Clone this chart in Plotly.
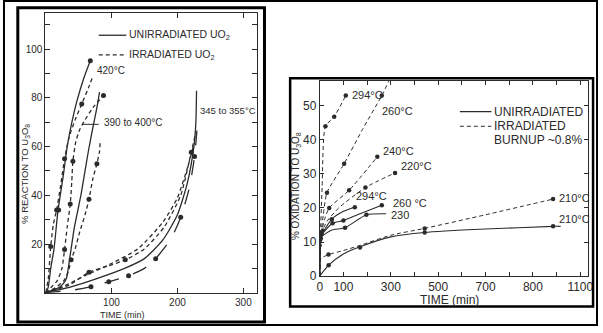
import plotly.graph_objects as go

# ---------------- LEFT PANEL DATA (time min, % reaction to U3O8) ----------------
l_u420_t = [0, 4, 8, 13, 19, 27, 33, 40, 48, 58, 68]
l_u420_v = [0, 2, 10, 18, 33.7, 48, 60, 70, 79, 88, 95.3]
l_d420_t = [0, 4, 8, 12, 17, 23, 29, 36, 45, 55, 65, 72]
l_d420_v = [0, 5, 19, 28, 34, 44, 55, 64, 71, 77.5, 84, 89]
l_d420_mt = [8, 17, 20, 29, 55]
l_d420_mv = [19, 34, 34, 55, 77.5]
l_d390a_t = [0, 8, 18, 25, 29, 33, 37.6, 40, 41.6, 46, 52, 60, 72, 88]
l_d390a_v = [0, 2, 5, 10, 17.7, 27, 36.4, 46, 54, 62, 67, 71, 76, 81]
l_d390a_mt = [29, 37.6, 41.6, 88]
l_d390a_mv = [17.7, 36.4, 54, 81]
l_u390_t = [0, 10, 20, 28, 32, 36.6, 40, 44, 50, 54, 59, 65, 72, 78, 82]
l_u390_v = [0, 1, 2, 4, 6, 13.7, 20, 27, 35, 40.4, 48.4, 58, 68, 76, 82.4]
l_d390b_t = [0, 15, 28, 35, 39, 45, 52, 60, 66, 72, 78, 82, 83]
l_d390b_v = [0, 2, 5, 9, 13.5, 18, 25, 32, 38.4, 47, 53, 58, 62]
l_d390b_mt = [39, 66, 78]
l_d390b_mv = [13.5, 38.4, 53]
l_d345a_t = [0, 30, 60, 100, 140, 178, 200, 216, 224]
l_d345a_v = [0, 3, 7, 12, 18, 29, 39, 52, 60]
l_d345b_t = [0, 35, 66, 95, 121, 150, 180, 205, 221, 228]
l_d345b_v = [0, 3, 8.4, 11, 13.5, 18, 27, 40, 57.7, 66]
l_d345b_mt = [66, 121, 221]
l_d345b_mv = [8.4, 13.5, 57.7]
l_u345_t = [0, 40, 80, 120, 150, 178, 200, 215, 225, 228, 229]
l_u345_v = [0, 2.5, 6, 10, 14, 21.7, 32, 45, 60, 70, 83]
l_u345b_t = [0, 40, 69, 96, 126, 150, 167, 190, 205, 218, 226, 230]
l_u345b_v = [0, 1, 2.5, 4.5, 7, 10, 14, 22, 31, 43, 56, 68]
l_u345b_mt = [69, 96, 126, 167, 205, 226]
l_u345b_mv = [2.5, 4.5, 7, 14, 31, 56]

# ---------------- RIGHT PANEL DATA (time min, % oxidation to U3O8) ----------------
r_d294_t = [0, 3, 10, 24, 61, 110]
r_d294_v = [0, 12, 26, 44, 46.8, 53]
r_d294_mt = [24, 61, 110]
r_d294_mv = [44, 46.8, 53]
r_d260_t = [0, 5, 15, 30.5, 103, 180, 262, 300]
r_d260_v = [0, 12, 18, 24.5, 33, 43, 53, 58.5]
r_d260_mt = [30.5, 103, 262]
r_d260_mv = [24.5, 33, 53]
r_d240_t = [0, 5, 20, 40, 124, 243]
r_d240_v = [0, 12, 16.5, 20, 25.2, 35]
r_d240_mt = [40, 124, 243]
r_d240_mv = [20, 25.2, 35]
r_d220_t = [0, 5, 30, 80, 193, 318]
r_d220_v = [0, 12, 16, 20, 26, 30.3]
r_d220_mt = [193, 318]
r_d220_mv = [26, 30.3]
r_u294_t = [0, 2, 8, 51, 100, 148]
r_u294_v = [0, 8, 12, 16.7, 19, 20.2]
r_u294_mt = [51, 148]
r_u294_mv = [16.7, 20.2]
r_u260_t = [0, 2, 8, 54, 100, 170, 262]
r_u260_v = [0, 8, 12, 15.5, 16.3, 18.3, 20.8]
r_u260_mt = [54, 100, 262]
r_u260_mv = [15.5, 16.3, 20.8]
r_u230_t = [0, 2, 8, 51, 107, 197, 280]
r_u230_v = [0, 8, 11.5, 13.5, 14.2, 18, 18.3]
r_u230_mt = [107, 197]
r_u230_mv = [14.2, 18]
r_d210_t = [0, 3, 37, 100, 170, 300, 443, 700, 985]
r_d210_v = [0, 5, 6.3, 7.5, 9, 12, 14, 18, 22.6]
r_d210_mt = [37, 443, 985]
r_d210_mv = [6.3, 14, 22.6]
r_u210_t = [0, 37.5, 100, 170, 300, 443, 700, 985, 1017]
r_u210_v = [0, 3.2, 6.5, 8.6, 11.5, 12.8, 13.8, 14.6, 14.6]
r_u210_mt = [37.5, 170, 443, 985]
r_u210_mv = [3.2, 8.4, 12.8, 14.6]
r_cluster_t = [2, 3, 4, 5, 6, 7, 8, 10, 12]
r_cluster_v = [9, 10.5, 11.5, 12, 12.5, 11, 13, 12.3, 13.5]

left_ticks = [100, 200, 300]
left_yticks = list(range(0, 111, 10))
left_ylabels = ["" if (v % 20 or v == 0) else str(v) for v in left_yticks]
right_xticks = list(range(0, 1101, 100))
right_xlabel_map = {0: "0", 100: "100", 300: "300", 500: "500", 700: "700", 900: "800", 1100: "1100"}
right_xlabels = [right_xlabel_map.get(v, "") for v in right_xticks]
right_yticks = [0, 10, 20, 30, 40, 50]

INK = "#2b2b2b"
FONT = "Liberation Sans"
DASH = "4px,3px"

fig = go.Figure()

def line(t, v, ax, dash="solid", w=1.3):
    fig.add_trace(go.Scatter(x=t, y=v, mode="lines", xaxis=ax[0], yaxis=ax[1],
                             line=dict(color=INK, width=w, dash=dash, shape="spline", smoothing=0.6),
                             hoverinfo="skip", showlegend=False))

def marks(t, v, ax, size=5):
    fig.add_trace(go.Scatter(x=t, y=v, mode="markers", xaxis=ax[0], yaxis=ax[1],
                             marker=dict(color=INK, size=size), hoverinfo="skip", showlegend=False))

L = ("x", "y")
R = ("x2", "y2")

line(l_u420_t, l_u420_v, L)
marks([l_u420_t[-1]], [l_u420_v[-1]], L)
line(l_d420_t, l_d420_v, L, DASH)
marks(l_d420_mt, l_d420_mv, L)
line(l_d390a_t, l_d390a_v, L, DASH)
marks(l_d390a_mt, l_d390a_mv, L)
line(l_u390_t, l_u390_v, L)
line(l_d390b_t, l_d390b_v, L, DASH)
marks(l_d390b_mt, l_d390b_mv, L)
line(l_d345a_t, l_d345a_v, L, DASH)
line(l_d345b_t, l_d345b_v, L, DASH)
marks(l_d345b_mt, l_d345b_mv, L)
line(l_u345_t, l_u345_v, L)
line(l_u345b_t, l_u345b_v, L, "longdash")
marks(l_u345b_mt, l_u345b_mv, L)

line(r_d294_t, r_d294_v, R, DASH, 1.0)
marks(r_d294_mt, r_d294_mv, R, 4.5)
line(r_d260_t, r_d260_v, R, DASH, 1.0)
marks(r_d260_mt, r_d260_mv, R, 4.5)
line(r_d240_t, r_d240_v, R, DASH, 1.0)
marks(r_d240_mt, r_d240_mv, R, 4.5)
line(r_d220_t, r_d220_v, R, DASH, 1.0)
marks(r_d220_mt, r_d220_mv, R, 4.5)
line(r_u294_t, r_u294_v, R, "solid", 1.1)
marks(r_u294_mt, r_u294_mv, R, 4.5)
line(r_u260_t, r_u260_v, R, "solid", 1.1)
marks(r_u260_mt, r_u260_mv, R, 4.5)
line(r_u230_t, r_u230_v, R, "solid", 1.1)
marks(r_u230_mt, r_u230_mv, R, 4.5)
line(r_d210_t, r_d210_v, R, DASH, 1.0)
marks(r_d210_mt, r_d210_mv, R, 4.5)
line(r_u210_t, r_u210_v, R, "solid", 1.1)
marks(r_u210_mt, r_u210_mv, R, 4.5)
marks(r_cluster_t, r_cluster_v, R, 3.5)

W, H = 603, 333
def px(x): return x / W
def py(y): return (H - y) / H

axis_common = dict(showgrid=False, zeroline=False, showline=True, linecolor=INK, linewidth=1,
                   mirror="ticks", ticks="inside", tickcolor=INK, ticklen=5, tickwidth=1,
                   tickfont=dict(family=FONT, size=10, color=INK))
right_font = dict(family=FONT, size=12, color=INK)

fig.update_layout(
    width=W, height=H, margin=dict(l=0, r=0, t=0, b=0),
    paper_bgcolor="white", plot_bgcolor="white", showlegend=False,
    xaxis=dict(domain=[px(43), px(257)], range=[0, 320], tickvals=left_ticks, anchor="y", **axis_common),
    yaxis=dict(domain=[py(299), py(13)], range=[0, 115], tickvals=left_yticks, ticktext=left_ylabels,
               anchor="x", **axis_common),
    xaxis2=dict(domain=[px(321), px(593)], range=[0, 1133], tickvals=right_xticks, ticktext=right_xlabels,
                anchor="y2", **{**axis_common, "tickfont": right_font, "ticklen": 4}),
    yaxis2=dict(domain=[py(282), py(83)], range=[0, 57.2], tickvals=right_yticks, anchor="x2",
                **{**axis_common, "tickfont": right_font, "ticklen": 4}),
)

shapes = [
    dict(type="rect", xref="paper", yref="paper", x0=px(1), x1=px(602), y0=py(332), y1=py(1),
         line=dict(color="black", width=2)),
    dict(type="rect", xref="paper", yref="paper", x0=px(15), x1=px(265), y0=py(329), y1=py(8),
         line=dict(color="black", width=3)),
    dict(type="rect", xref="paper", yref="paper", x0=px(291), x1=px(598), y0=py(313), y1=py(80),
         line=dict(color="black", width=2.5)),
    # left legend samples
    dict(type="line", xref="paper", yref="paper", x0=px(97), x1=px(125), y0=py(36), y1=py(36),
         line=dict(color=INK, width=1.3)),
    dict(type="line", xref="paper", yref="paper", x0=px(97), x1=px(125), y0=py(56), y1=py(56),
         line=dict(color=INK, width=1.3, dash=DASH)),
    # leader for 390 label
    dict(type="line", xref="paper", yref="paper", x0=px(81), x1=px(97), y0=py(127), y1=py(127),
         line=dict(color=INK, width=1)),
    # right legend samples
    dict(type="line", xref="paper", yref="paper", x0=px(463), x1=px(495), y0=py(114), y1=py(114),
         line=dict(color=INK, width=1.1)),
    dict(type="line", xref="paper", yref="paper", x0=px(463), x1=px(495), y0=py(129), y1=py(129),
         line=dict(color=INK, width=1, dash=DASH)),
]
fig.update_layout(shapes=shapes)

def note(text, x, y, size=10, xref="paper", yref="paper", xanchor="left", angle=0):
    fig.add_annotation(text=text, x=x, y=y, xref=xref, yref=yref, xanchor=xanchor, yanchor="middle",
                       showarrow=False, textangle=angle, font=dict(family=FONT, size=size, color=INK))

# left panel texts
note("UNIRRADIATED UO<sub>2</sub>", px(126), py(36), 10.5)
note("IRRADIATED UO<sub>2</sub>", px(126), py(56), 10.5)
note("420°C", 75, 91.3, 10, "x", "y")
note("390 to 400°C", 85, 70, 10, "x", "y")
note("345 to 355°C", 231, 75, 9.5, "x", "y")
note("TIME (min)", px(121), py(322), 9, xanchor="center")
note("% REACTION TO U<sub>3</sub>O<sub>8</sub>", px(23), py(178), 9.5, xanchor="center", angle=-90)

# right panel texts
note("UNIRRADIATED", px(496), py(114), 12)
note("IRRADIATED", px(496), py(129), 12)
note("BURNUP ~0.8%", px(496), py(143), 12)
note("294°C", 128, 53.3, 11, "x2", "y2")
note("260°C", 253, 48.5, 11, "x2", "y2")
note("240°C", 258, 36.7, 11, "x2", "y2")
note("220°C", 336, 32.2, 11, "x2", "y2")
note("294°C", 145, 23.5, 11, "x2", "y2")
note("260 °C", 300, 21.5, 11, "x2", "y2")
note("230", 292, 18, 11, "x2", "y2")
note("210°C", 1003, 23, 11, "x2", "y2")
note("210°C", 1003, 16.9, 11, "x2", "y2")
note("TIME (min)", px(453), py(306), 12, xanchor="center")
note("% OXIDATION TO U<sub>3</sub>O<sub>8</sub>", px(297), py(190), 10, xanchor="center", angle=-90)

fig.write_html("out.html", config={"displayModeBar": False},
               post_script="document.body.style.margin='0px';document.body.style.overflow='hidden';")
